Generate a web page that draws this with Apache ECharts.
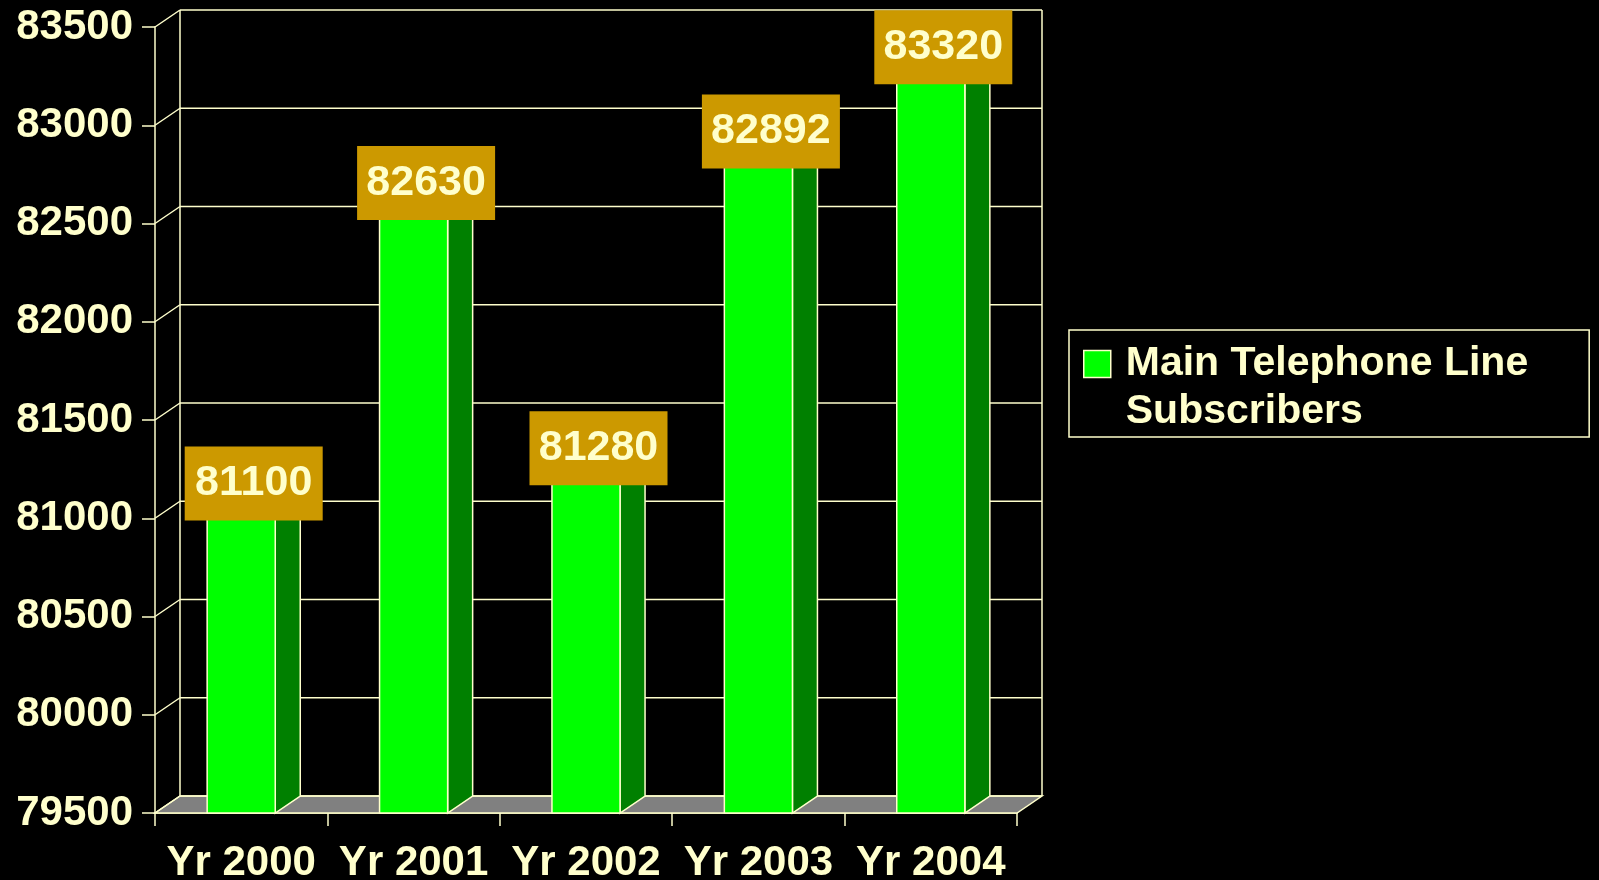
<!DOCTYPE html>
<html>
<head>
<meta charset="utf-8">
<title>Main Telephone Line Subscribers</title>
<script src="https://cdn.jsdelivr.net/npm/echarts@6/dist/echarts.min.js"></script>
<style>
  html, body { margin: 0; padding: 0; background: #000; }
  #chart { width: 1599px; height: 880px; }
</style>
</head>
<body>
<div id="chart"></div>
<script>
  // data
  const years = ['Yr 2000', 'Yr 2001', 'Yr 2002', 'Yr 2003', 'Yr 2004'];
  const subscribers = [81100, 82630, 81280, 82892, 83320];
  const yTicks = [79500, 80000, 80500, 81000, 81500, 82000, 82500, 83000, 83500];
  const seriesName = 'Main Telephone Line\nSubscribers';

  const CREAM = '#ffffcc';
  const FONT = '"Liberation Sans", Arial, sans-serif';
  // depth of the fake 3d box
  const DX = 25;
  const DY = 17;

  const chart = echarts.init(document.getElementById('chart'));

  // back wall, floor and the little diagonal connectors
  function renderWall(params, api) {
    const cs = params.coordSys;
    const y = api.coord([0, api.value(1)])[1];
    const children = [];
    const line = (x1, y1, x2, y2) => ({
      type: 'line',
      shape: { x1, y1, x2, y2 },
      style: { stroke: CREAM, lineWidth: 1.5 }
    });

    if (params.dataIndex === 0) {
      const left = cs.x, right = cs.x + cs.width, bot = cs.y + cs.height, top = cs.y;
      children.push({
        type: 'polygon',
        shape: { points: [[left, bot], [right, bot], [right + DX, bot - DY], [left + DX, bot - DY]] },
        style: { fill: '#808080', stroke: CREAM, lineWidth: 1.5 }
      });
      children.push(line(left + DX, top - DY, left + DX, bot - DY));
      children.push(line(right + DX, top - DY, right + DX, bot - DY));
    }
    children.push(line(cs.x, y, cs.x + DX, y - DY));
    children.push(line(cs.x + DX, y - DY, cs.x + cs.width + DX, y - DY));
    return { type: 'group', children };
  }

  // 3d-looking bar with a boxed value label
  function renderBar(params, api) {
    const p = api.coord([api.value(0), api.value(1)]);
    const base = api.coord([api.value(0), yTicks[0]]);
    const w = api.size([1, 0])[0] * 0.395;
    const x0 = p[0] - w / 2, x1 = p[0] + w / 2;
    const top = p[1], bot = base[1];
    const edge = { stroke: CREAM, lineWidth: 1.5 };

    return {
      type: 'group',
      children: [{
        type: 'polygon',
        shape: { points: [[x1, top], [x1 + DX, top - DY], [x1 + DX, bot - DY], [x1, bot]] },
        style: Object.assign({ fill: '#008000' }, edge)
      }, {
        type: 'polygon',
        shape: { points: [[x0, top], [x1, top], [x1 + DX, top - DY], [x0 + DX, top - DY]] },
        style: Object.assign({ fill: '#00cc00' }, edge)
      }, {
        type: 'rect',
        shape: { x: x0, y: top, width: w, height: bot - top },
        style: Object.assign({ fill: '#00ff00' }, edge)
      }, {
        type: 'rect',
        shape: { x: x0 + w / 2 + DX / 2 - 69, y: top - 15 - 37, width: 138, height: 74 },
        style: { fill: '#cc9900' },
        textContent: {
          style: {
            text: String(api.value(1)),
            fill: CREAM,
            fontSize: 43,
            fontWeight: 'bold',
            fontFamily: FONT
          }
        },
        textConfig: { position: 'inside' }
      }]
    };
  }

  chart.setOption({
    backgroundColor: '#000',
    animation: false,

    grid: {
      left: 155,
      right: 582,
      top: 27,
      bottom: 67,
      outerBoundsMode: 'none'
    },

    legend: {
      data: [{
        name: seriesName,
        icon: 'rect',
        itemStyle: { color: '#00ff00', borderColor: CREAM, borderWidth: 1.5 }
      }],
      // leading empty line keeps the icon level with the first text line
      formatter: '\n{name}',
      left: 1069,
      top: 330,
      itemWidth: 27,
      itemHeight: 27,
      itemGap: 0,
      padding: [-38, 61, 1, 14],
      borderColor: CREAM,
      borderWidth: 1.5,
      textStyle: {
        color: CREAM,
        fontSize: 41,
        fontWeight: 'bold',
        fontFamily: FONT,
        lineHeight: 48,
        padding: [0, 0, 0, 10]
      }
    },

    xAxis: {
      type: 'category',
      data: years,
      boundaryGap: true,
      axisLine: { lineStyle: { color: CREAM, width: 1.5 } },
      axisTick: { show: true, length: 13, lineStyle: { color: CREAM, width: 1.5 } },
      axisLabel: {
        interval: 0,
        color: CREAM,
        fontSize: 42,
        fontWeight: 'bold',
        fontFamily: FONT,
        margin: 29
      },
      splitLine: { show: false }
    },

    yAxis: {
      type: 'value',
      min: 79500,
      max: 83500,
      interval: 500,
      axisLine: { show: true, lineStyle: { color: CREAM, width: 1.5 } },
      axisTick: { show: true, length: 13, lineStyle: { color: CREAM, width: 1.5 } },
      axisLabel: {
        formatter: v => String(v),
        color: CREAM,
        fontSize: 42,
        fontWeight: 'bold',
        fontFamily: FONT,
        margin: 22
      },
      splitLine: { show: false }
    },

    series: [{
      name: 'wall',
      type: 'custom',
      z: 1,
      silent: true,
      clip: false,
      renderItem: renderWall,
      data: yTicks.map(v => [0, v])
    }, {
      name: seriesName,
      type: 'custom',
      z: 2,
      clip: false,
      renderItem: renderBar,
      data: subscribers.map((v, i) => [i, v])
    }]
  });
</script>
</body>
</html>
